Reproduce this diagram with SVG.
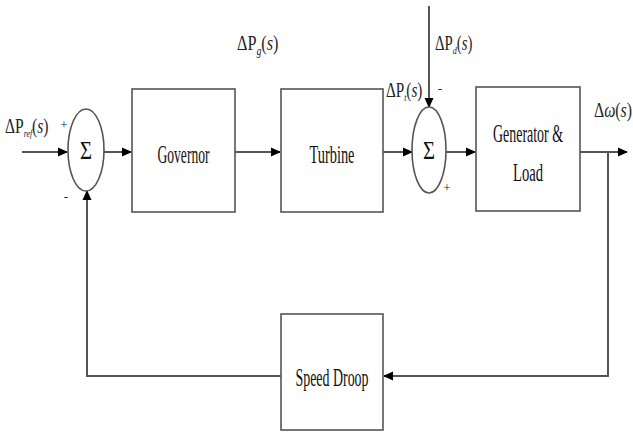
<svg xmlns="http://www.w3.org/2000/svg" width="633" height="437" viewBox="0 0 633 437">
<style>
.blk{fill:#fff;stroke:#555;stroke-width:1.6}
.sum{fill:#fff;stroke:#555;stroke-width:1.6}
.ln{fill:none;stroke:#555;stroke-width:2}
.t{font-family:"Liberation Serif","Times New Roman",serif;font-size:25px;fill:#111}
.lab{font-family:"Liberation Serif","Times New Roman",serif;font-size:20px;fill:#222}
.sg{font-family:"Liberation Serif","Times New Roman",serif;font-size:13px;fill:#222}
.it{font-style:italic}
</style>
<defs>
<marker id="ah" markerWidth="10" markerHeight="10" refX="9" refY="5" orient="auto" markerUnits="userSpaceOnUse">
<path d="M0,0.5 L10,5 L0,9.5 Z" fill="#000"/>
</marker>
</defs>
<g id="connectors">
<line class="ln" x1="22" y1="152" x2="67" y2="152" marker-end="url(#ah)"/>
<line class="ln" x1="104" y1="152" x2="131" y2="152" marker-end="url(#ah)"/>
<line class="ln" x1="235" y1="152" x2="280" y2="152" marker-end="url(#ah)"/>
<line class="ln" x1="383" y1="152" x2="412" y2="152" marker-end="url(#ah)"/>
<line class="ln" x1="446" y1="152" x2="475" y2="152" marker-end="url(#ah)"/>
<line class="ln" x1="580" y1="152" x2="627" y2="152" marker-end="url(#ah)"/>
<polyline class="ln" points="608,152 608,376 384,376" marker-end="url(#ah)"/>
<polyline class="ln" points="281,376 87,376 87,191" marker-end="url(#ah)"/>
<line class="ln" x1="429" y1="6" x2="429" y2="107" stroke-width="1.3" marker-end="url(#ah)"/>
</g>
<g id="sum1">
<ellipse class="sum" cx="86" cy="150" rx="18" ry="41"/>
<text class="t" x="86" y="159" text-anchor="middle" textLength="12" lengthAdjust="spacingAndGlyphs">Σ</text>
<text class="sg" x="64" y="129" text-anchor="middle">+</text>
<text class="sg" x="66" y="201" text-anchor="middle">-</text>
</g>
<g id="governor">
<rect class="blk" x="132" y="89" width="103" height="123"/>
<text class="t" x="183.5" y="163" text-anchor="middle" textLength="52" lengthAdjust="spacingAndGlyphs">Governor</text>
</g>
<g id="turbine">
<rect class="blk" x="281" y="89" width="102" height="123"/>
<text class="t" x="332" y="163" text-anchor="middle" textLength="45" lengthAdjust="spacingAndGlyphs">Turbine</text>
</g>
<g id="sum2">
<ellipse class="sum" cx="429" cy="150" rx="17" ry="43"/>
<text class="t" x="429" y="159" text-anchor="middle" textLength="12" lengthAdjust="spacingAndGlyphs">Σ</text>
<text class="sg" x="440" y="93" text-anchor="middle">-</text>
<text class="sg" x="447" y="192" text-anchor="middle">+</text>
</g>
<g id="generator">
<rect class="blk" x="476" y="87" width="104" height="124"/>
<text class="t" x="528" y="142" text-anchor="middle" textLength="70" lengthAdjust="spacingAndGlyphs">Generator &amp;</text>
<text class="t" x="528" y="181" text-anchor="middle" textLength="30" lengthAdjust="spacingAndGlyphs">Load</text>
</g>
<g id="speed-droop">
<rect class="blk" x="281" y="314" width="102" height="116"/>
<text class="t" x="332" y="386" text-anchor="middle" textLength="73" lengthAdjust="spacingAndGlyphs">Speed Droop</text>
</g>
<g id="labels">
<text class="lab" transform="translate(5 133) scale(0.78 1)">ΔP<tspan class="it" font-size="10" dy="4">ref</tspan><tspan dy="-4">(</tspan><tspan class="it">s</tspan>)</text>
<text class="lab" transform="translate(237 50) scale(0.81 1)">ΔP<tspan class="it" font-size="12" dy="5">g</tspan><tspan dy="-5">(</tspan><tspan class="it">s</tspan>)</text>
<text class="lab" font-size="16" transform="translate(386 97) scale(0.76 1)">ΔP<tspan class="it" font-size="10" dy="4">t</tspan><tspan dy="-4">(</tspan><tspan class="it">s</tspan>)</text>
<text class="lab" transform="translate(435 50) scale(0.74 1)">ΔP<tspan class="it" font-size="11" dy="4">d</tspan><tspan dy="-4">(</tspan><tspan class="it">s</tspan>)</text>
<text class="lab" transform="translate(594 117) scale(0.79 1)">Δ<tspan class="it">ω</tspan>(<tspan class="it">s</tspan>)</text>
</g>
</svg>
